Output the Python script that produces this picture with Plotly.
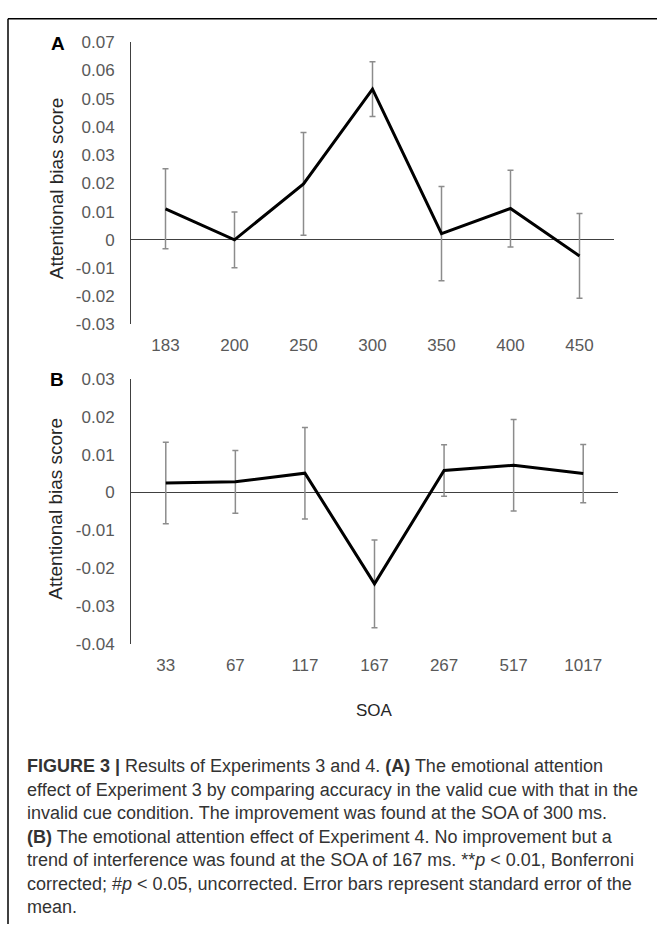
import plotly.graph_objects as go

# ---- data ----
soa_a = ["183", "200", "250", "300", "350", "400", "450"]
bias_a = [0.011, 0.0, 0.0198, 0.0534, 0.0022, 0.0111, -0.0057]
se_a = [0.0142, 0.0099, 0.0182, 0.0097, 0.0167, 0.0136, 0.0150]

soa_b = ["33", "67", "117", "167", "267", "517", "1017"]
bias_b = [0.0025, 0.0028, 0.0051, -0.0242, 0.0058, 0.0072, 0.0050]
se_b = [0.0108, 0.0083, 0.0121, 0.0116, 0.0068, 0.0121, 0.0077]

yticks_a = [0.07, 0.06, 0.05, 0.04, 0.03, 0.02, 0.01, 0, -0.01, -0.02, -0.03]
ytext_a = ["0.07", "0.06", "0.05", "0.04", "0.03", "0.02", "0.01", "0", "-0.01", "-0.02", "-0.03"]
yticks_b = [0.03, 0.02, 0.01, 0, -0.01, -0.02, -0.03, -0.04]
ytext_b = ["0.03", "0.02", "0.01", "0", "-0.01", "-0.02", "-0.03", "-0.04"]

caption_lines = [
    "<b>FIGURE 3 |</b> Results of Experiments 3 and 4. <b>(A)</b> The emotional attention",
    "effect of Experiment 3 by comparing accuracy in the valid cue with that in the",
    "invalid cue condition. The improvement was found at the SOA of 300 ms.",
    "<b>(B)</b> The emotional attention effect of Experiment 4. No improvement but a",
    "trend of interference was found at the SOA of 167 ms. **<i>p</i> &lt; 0.01, Bonferroni",
    "corrected; #<i>p</i> &lt; 0.05, uncorrected. Error bars represent standard error of the",
    "mean.",
]

W, H = 657, 939


def px(x):
    return x / W


def py(y):
    return 1 - y / H


FONT = "Liberation Sans, Arial, Helvetica, sans-serif"
TICK_COLOR = "#595959"
AXIS_COLOR = "#404040"
ERR_COLOR = "#8c8c8c"
TEXT_COLOR = "#262626"

fig = go.Figure()

fig.add_trace(go.Scatter(
    x=soa_a, y=bias_a, mode="lines",
    line=dict(color="black", width=3),
    error_y=dict(type="data", array=se_a, visible=True,
                 color=ERR_COLOR, thickness=1.5, width=3),
    xaxis="x", yaxis="y", showlegend=False, hoverinfo="skip",
))
fig.add_trace(go.Scatter(
    x=soa_b, y=bias_b, mode="lines",
    line=dict(color="black", width=3),
    error_y=dict(type="data", array=se_b, visible=True,
                 color=ERR_COLOR, thickness=1.5, width=3),
    xaxis="x2", yaxis="y2", showlegend=False, hoverinfo="skip",
))

xaxis_common = dict(
    type="category", range=[-0.5, 6.5], showgrid=False, zeroline=False,
    showline=False, ticks="", ticklabelstandoff=9,
    tickfont=dict(family=FONT, size=17, color=TICK_COLOR),
)
yaxis_common = dict(
    showgrid=False, zeroline=True, zerolinecolor=AXIS_COLOR, zerolinewidth=1,
    showline=True, linecolor=AXIS_COLOR, linewidth=1, ticks="",
    ticklabelstandoff=12,
    tickfont=dict(family=FONT, size=17, color=TICK_COLOR),
)

fig.update_layout(
    width=W, height=H,
    margin=dict(l=0, r=0, t=0, b=0),
    paper_bgcolor="white", plot_bgcolor="white",
    xaxis=dict(domain=[px(131), px(614)], anchor="y", **xaxis_common),
    yaxis=dict(domain=[py(322), py(34)], anchor="x", range=[-0.03, 0.07],
               tickvals=yticks_a, ticktext=ytext_a, **yaxis_common),
    xaxis2=dict(domain=[px(131), px(618)], anchor="y2", **xaxis_common),
    yaxis2=dict(domain=[py(647.7), py(377.7)], anchor="x2", range=[-0.04, 0.03],
                tickvals=yticks_b, ticktext=ytext_b, **yaxis_common),
)


def label(text, x, y, size, color=TEXT_COLOR, **kw):
    return dict(text=text, x=px(x), y=py(y), xref="paper", yref="paper",
                xanchor=kw.pop("xanchor", "center"), yanchor="middle",
                showarrow=False, font=dict(family=FONT, size=size, color=color), **kw)


annotations = [
    # panel letters
    label("<b>A</b>", 58, 35, 19, "black"),
    label("<b>B</b>", 57, 378, 19, "black"),
    # y titles
    label("Attentional bias score", 56, 183, 19, textangle=-90),
    label("Attentional bias score", 56, 510, 19, textangle=-90),
    # x title
    label("SOA", 374, 716, 17),
    # significance markers
    dict(text="**", x="300", y=bias_a[3] + se_a[3], xref="x", yref="y",
         xanchor="center", yanchor="bottom", yshift=2, showarrow=False,
         font=dict(family=FONT, size=13, color=TEXT_COLOR)),
    dict(text="#", x="167", y=bias_b[3] - se_b[3], xref="x2", yref="y2",
         xanchor="center", yanchor="top", yshift=-3, showarrow=False,
         font=dict(family=FONT, size=13, color=TEXT_COLOR)),
]

line_y0, line_step = 773, 24
for i, line in enumerate(caption_lines):
    annotations.append(label(line, 25, line_y0 + i * line_step, 18, "#333333",
                             xanchor="left", align="left"))

fig.update_layout(annotations=annotations)

# frame around the figure (top and left edges)
fig.add_shape(type="line", xref="paper", yref="paper",
              x0=px(8), y0=py(10), x1=1, y1=py(10),
              line=dict(color="black", width=1.5))
fig.add_shape(type="line", xref="paper", yref="paper",
              x0=px(8), y0=py(10), x1=px(8), y1=py(934),
              line=dict(color="black", width=1.5))

fig.write_html("out.html")
